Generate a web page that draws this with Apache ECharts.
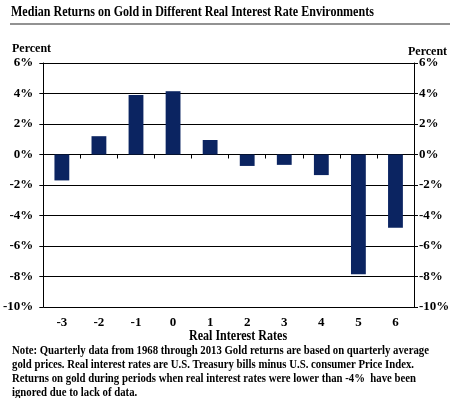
<!DOCTYPE html>
<html>
<head>
<meta charset="utf-8">
<script src="https://cdn.jsdelivr.net/npm/echarts@6/dist/echarts.min.js"></script>
<style>
  html, body { margin: 0; padding: 0; background: #fff; }
  #container { width: 456px; height: 398px; }
</style>
</head>
<body>
<div id="container"></div>
<script>
var rateLabels = ["-3", "-2", "-1", "0", "1", "2", "3", "4", "5", "6"];
var medianReturns = [-1.7, 1.2, 3.9, 4.15, 0.95, -0.75, -0.68, -1.35, -7.85, -4.8];
var titleText = "Median Returns on Gold in Different Real Interest Rate Environments";
var noteLines = [
  "Note: Quarterly data from 1968 through 2013 Gold returns are based on quarterly average",
  "gold prices. Real interest rates are U.S. Treasury bills minus U.S. consumer Price Index.",
  "Returns on gold during periods when real interest rates were lower than -4%  have been",
  "ignored due to lack of data."
];

var dom = document.getElementById("container");
var myChart = echarts.init(dom);
var serif = "'Liberation Serif', 'DejaVu Serif', serif";

// both y axes share the same scale
function percentAxis(pos, gap) {
  return {
    type: "value",
    position: pos,
    min: -10,
    max: 6,
    interval: 2,
    axisLine: { show: true, lineStyle: { color: "#000", width: 1 } },
    axisTick: { show: true, length: 4, lineStyle: { color: "#000" } },
    axisLabel: {
      formatter: "{value}%",
      color: "#000",
      fontFamily: serif,
      fontWeight: "bold",
      fontSize: 13,
      margin: gap
    },
    splitLine: { show: pos == "left", lineStyle: { color: "#000", width: 1 } }
  };
}

// squeezed text, the original uses a narrow serif
function label(txt, x, y, font, sx, extra) {
  var style = { text: txt, fill: "#000", font: font, verticalAlign: "top" };
  if (extra) Object.assign(style, extra);
  return { type: "text", x: x, y: y, scaleX: sx, style: style };
}

var option = {
  animation: false,
  textStyle: { fontFamily: serif },
  grid: { left: 41, right: 42, top: 63, bottom: 91 },
  xAxis: [
    {
      // axis drawn along the 0% line, ticks only
      type: "category",
      data: rateLabels,
      axisLine: { onZero: true, lineStyle: { color: "#000" } },
      axisTick: { show: true, length: 4, lineStyle: { color: "#000" } },
      axisLabel: { show: false }
    },
    {
      // labels along the bottom
      type: "category",
      position: "bottom",
      data: rateLabels,
      axisLine: { show: false },
      axisTick: { show: false },
      axisLabel: {
        color: "#000",
        fontFamily: serif,
        fontWeight: "bold",
        fontSize: 13,
        margin: 9
      }
    }
  ],
  yAxis: [percentAxis("left", 10), percentAxis("right", 5)],
  series: [
    {
      type: "bar",
      data: medianReturns,
      barCategoryGap: "60%",
      itemStyle: { color: "#0b2461" }
    }
  ],
  graphic: [
    label(titleText, 11, 5, "bold 14px " + serif, 0.86),
    {
      type: "line",
      shape: { x1: 10, y1: 24, x2: 450, y2: 24 },
      style: { stroke: "#6e6e6e", lineWidth: 1.5 }
    },
    label("Percent", 12, 43, "bold 12px " + serif, 1),
    label("Percent", 408, 46, "bold 12px " + serif, 1),
    label("Real Interest Rates", 189, 329, "bold 14px " + serif, 0.86),
    label(noteLines.join("\n"), 12, 344, "bold 12.5px " + serif, 0.86, { lineHeight: 14 })
  ]
};

myChart.setOption(option, true);
</script>
</body>
</html>
